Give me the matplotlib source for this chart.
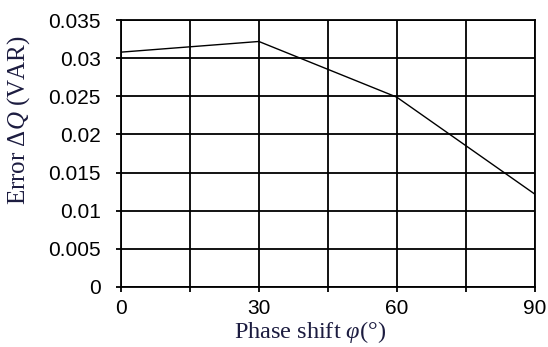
import matplotlib.pyplot as plt

phase = [0, 30, 60, 90]
error = [0.0308, 0.0322, 0.0249, 0.0122]

x_ticks = [0, 30, 60, 90]
x_grid = [0, 15, 30, 45, 60, 75, 90]
y_ticks = [0, 0.005, 0.01, 0.015, 0.02, 0.025, 0.03, 0.035]
y_labels = ['0', '0.005', '0.01', '0.015', '0.02', '0.025', '0.03', '0.035']

plt.rcParams['mathtext.fontset'] = 'custom'
plt.rcParams['mathtext.it'] = 'Liberation Serif:italic'
plt.rcParams['mathtext.rm'] = 'Liberation Serif'

fig = plt.figure(figsize=(5.48, 3.47), dpi=100)
ax = fig.add_axes([0.2208, 0.173, 0.7547, 0.769])

ax.plot(phase, error, color='black', linewidth=1.0)

ax.set_xlim(0, 90)
ax.set_ylim(0, 0.035)
ax.set_xticks(x_grid)
ax.set_xticklabels([str(v) if v in x_ticks else '' for v in x_grid])
ax.set_yticks(y_ticks)
ax.set_yticklabels(y_labels)
ax.grid(True, color='black', linewidth=1.3)
for s in ax.spines.values():
    s.set_linewidth(1.3)
ax.tick_params(direction='out', length=3.6, width=1.3, labelsize=15)
ax.tick_params(axis='y', pad=11)
ax.tick_params(axis='x', pad=5)
for lbl in ax.get_xticklabels() + ax.get_yticklabels():
    lbl.set_fontfamily('Liberation Sans')

fig.text(0.033, 0.655, r'Error $\Delta Q$ (VAR)', rotation=90, ha='center', va='center',
         fontsize=18, family='Liberation Serif', color='#1c1c40')
fig.text(0.565, 0.042, r'Phase shift $\varphi$($\degree$)', ha='center', va='center',
         fontsize=17.5, family='Liberation Serif', color='#1c1c40')

fig.savefig('out.png', dpi=100)
